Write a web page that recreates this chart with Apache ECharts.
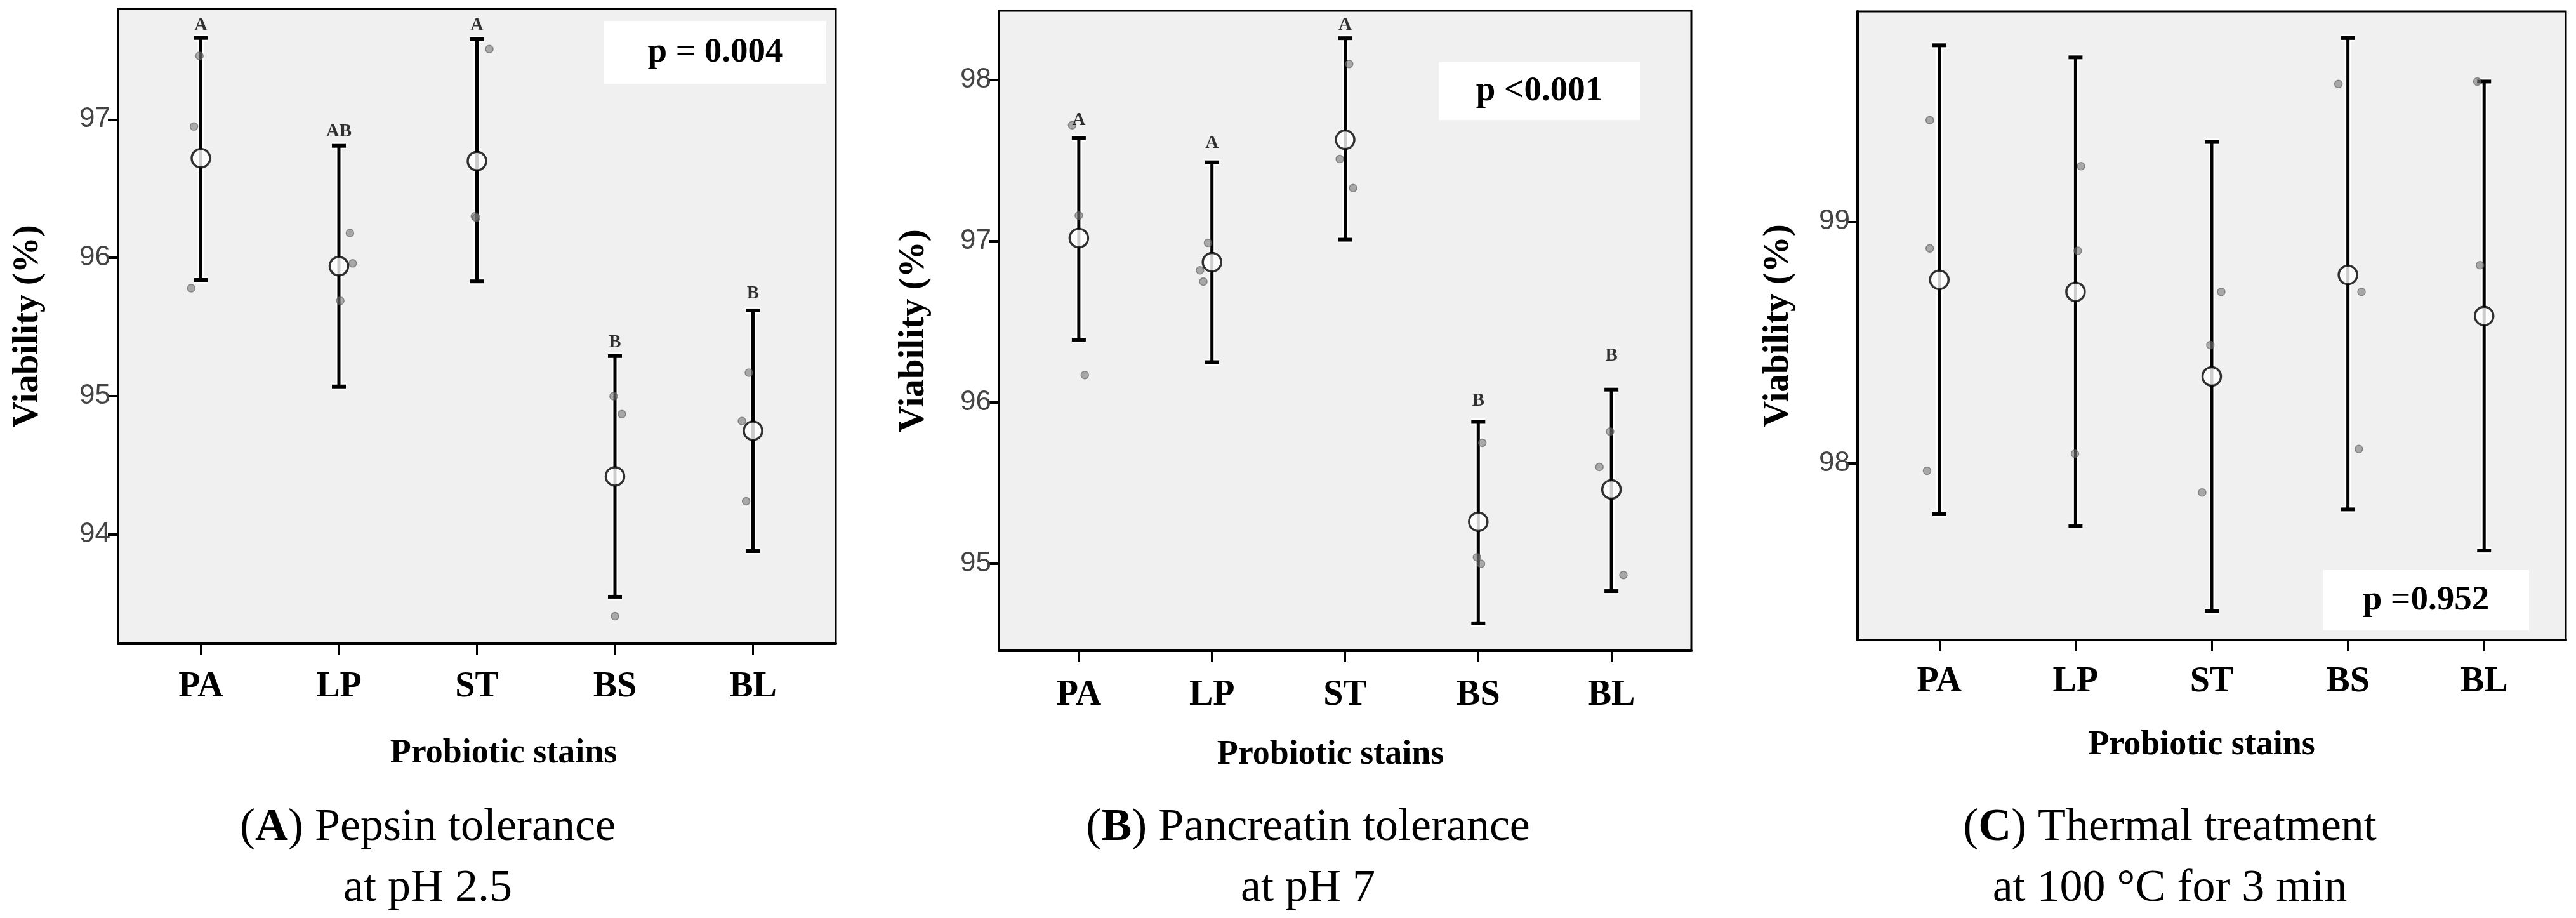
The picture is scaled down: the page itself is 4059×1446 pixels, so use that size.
<!DOCTYPE html>
<html>
<head>
<meta charset="utf-8">
<script src="https://cdn.jsdelivr.net/npm/echarts@6/dist/echarts.min.js"></script>
<style>
html,body{margin:0;padding:0;background:#fff;}
#chart{width:4059px;height:1446px;}
</style>
</head>
<body>
<div id="chart"></div>
<script>
// ---------- data ----------
const categories = ['PA', 'LP', 'ST', 'BS', 'BL'];

// Panel A: Pepsin tolerance at pH 2.5
const meanA  = [96.72, 95.94, 96.70, 94.42, 94.75];
const upperA = [97.59, 96.81, 97.58, 95.29, 95.62];
const lowerA = [95.84, 95.07, 95.83, 93.55, 93.88];
const pointsA = [[97.46, 96.95, 95.78], [96.18, 95.96, 95.69], [97.51, 96.30, 96.29], [95.00, 94.87, 93.41], [95.17, 94.82, 94.24]];
const jitterA = [[-0.01, -0.05, -0.07], [0.08, 0.10, 0.01], [0.09, -0.015, -0.005], [-0.01, 0.05, 0.0], [-0.03, -0.08, -0.05]];
const lettersA = ['A', 'AB', 'A', 'B', 'B'];
const letterYA = [97.68, 96.91, 97.68, 95.39, 95.74];
const ticksA = [94, 95, 96, 97];
const rangeA = [93.21, 97.80];

// Panel B: Pancreatin tolerance at pH 7
const meanB  = [97.02, 96.87, 97.63, 95.26, 95.46];
const upperB = [97.64, 97.49, 98.26, 95.88, 96.08];
const lowerB = [96.39, 96.25, 97.01, 94.63, 94.83];
const pointsB = [[97.72, 97.16, 96.17], [96.99, 96.82, 96.75], [98.10, 97.51, 97.33], [95.75, 95.04, 95.00], [95.82, 95.60, 94.93]];
const jitterB = [[-0.05, 0.0, 0.045], [-0.03, -0.09, -0.065], [0.03, -0.04, 0.06], [0.03, -0.01, 0.02], [-0.01, -0.09, 0.09]];
const lettersB = ['A', 'A', 'A', 'B', 'B'];
const letterYB = [97.75, 97.61, 98.34, 96.01, 96.29];
const ticksB = [95, 96, 97, 98];
const rangeB = [94.46, 98.43];

// Panel C: Thermal treatment at 100 °C for 3 min
const meanC  = [98.76, 98.71, 98.36, 98.78, 98.61];
const upperC = [99.73, 99.68, 99.33, 99.76, 99.58];
const lowerC = [97.79, 97.74, 97.39, 97.81, 97.64];
const pointsC = [[99.42, 98.89, 97.97], [99.23, 98.88, 98.04], [98.71, 98.49, 97.88], [99.57, 98.71, 98.06], [99.58, 98.82, 97.42]];
const jitterC = [[-0.07, -0.07, -0.09], [0.04, 0.016, -0.004], [0.07, -0.01, -0.07], [-0.07, 0.10, 0.08], [-0.05, -0.03, 0.03]];
const lettersC = ['', '', '', '', ''];
const letterYC = [null, null, null, null, null];
const ticksC = [98, 99];
const rangeC = [97.27, 99.87];

const pTexts = ['p = 0.004', 'p <0.001', 'p =0.952'];
const captionBold = ['A', 'B', 'C'];
const captionLine1 = [' Pepsin tolerance', ' Pancreatin tolerance', ' Thermal treatment'];
const captionLine2 = ['at pH 2.5', 'at pH 7', 'at 100 °C for 3 min'];
const yName = 'Viability (%)';
const xName = 'Probiotic stains';

// ---------- layout ----------
const SERIF = '"Liberation Serif", "Times New Roman", serif';
const SANS = '"Liberation Sans", Arial, sans-serif';

const panels = [
  { mean: meanA, upper: upperA, lower: lowerA, pts: pointsA, jit: jitterA, letters: lettersA, letterY: letterYA, ticks: ticksA, range: rangeA,
    grid: { left: 186, top: 14, width: 1131, height: 1000 }, yGap: 113, xGap: 146, xPad: [0, 0, 0, 84], labelMargin: 41,
    pbox: { x: 952, y: 33, w: 350, h: 99 }, capX: 674 },
  { mean: meanB, upper: upperB, lower: lowerB, pts: pointsB, jit: jitterB, letters: lettersB, letterY: letterYB, ticks: ticksB, range: rangeB,
    grid: { left: 1574, top: 17, width: 1091, height: 1008 }, yGap: 105, xGap: 137, xPad: [0, 46, 0, 0], labelMargin: 43,
    pbox: { x: 2267, y: 98, w: 317, h: 91 }, capX: 2061 },
  { mean: meanC, upper: upperC, lower: lowerC, pts: pointsC, jit: jitterC, letters: lettersC, letterY: letterYC, ticks: ticksC, range: rangeC,
    grid: { left: 2927, top: 18, width: 1116, height: 990 }, yGap: 96, xGap: 139, xPad: [0, 32, 0, 0], labelMargin: 39,
    pbox: { x: 3660, y: 898, w: 325, h: 95 }, capX: 3419 }
];

const grids = [], xAxes = [], yAxes = [], series = [], graphics = [];

panels.forEach((p, k) => {
  grids.push(Object.assign({ show: true, backgroundColor: '#f0f0f0', borderColor: '#000', borderWidth: 3, containLabel: false }, p.grid));

  xAxes.push({
    type: 'value', gridIndex: k, min: -0.6, max: 4.6,
    name: xName, nameLocation: 'middle', nameGap: p.xGap,
    nameTextStyle: { fontFamily: SERIF, fontWeight: 'bold', fontSize: 54, color: '#000', padding: p.xPad },
    axisLine: { show: true, onZero: false, lineStyle: { color: '#000', width: 4 } },
    axisTick: { show: true, inside: false, length: 18, customValues: [0, 1, 2, 3, 4], lineStyle: { color: '#000', width: 3 } },
    axisLabel: { show: true, margin: p.labelMargin, customValues: [0, 1, 2, 3, 4],
      formatter: v => categories[Math.round(v)] || '',
      fontFamily: SERIF, fontWeight: 'bold', fontSize: 56, color: '#000' },
    splitLine: { show: false }
  });

  yAxes.push({
    type: 'value', gridIndex: k, min: p.range[0], max: p.range[1],
    name: yName, nameLocation: 'middle', nameRotate: 90, nameGap: p.yGap,
    nameTextStyle: { fontFamily: SERIF, fontWeight: 'bold', fontSize: 57, color: '#000' },
    axisLine: { show: true, onZero: false, lineStyle: { color: '#000', width: 4 } },
    axisTick: { show: true, inside: false, length: 16, customValues: p.ticks, lineStyle: { color: '#000', width: 4 } },
    axisLabel: { show: true, margin: 12, customValues: p.ticks, formatter: v => String(Math.round(v)),
      fontFamily: SANS, fontSize: 44, color: '#444' },
    splitLine: { show: false }
  });

  // error bars
  series.push({
    type: 'custom', xAxisIndex: k, yAxisIndex: k, z: 3,
    data: categories.map((c, i) => [i, p.lower[i], p.upper[i]]),
    renderItem: (params, api) => {
      const x = api.value(0), lo = api.value(1), hi = api.value(2);
      const a = api.coord([x, hi]), b = api.coord([x, lo]);
      const hw = 11;
      const mk = (stroke, w, cw) => [
        { type: 'line', shape: { x1: a[0], y1: a[1], x2: b[0], y2: b[1] }, style: { stroke: stroke, lineWidth: w } },
        { type: 'line', shape: { x1: a[0] - hw, y1: a[1], x2: a[0] + hw, y2: a[1] }, style: { stroke: stroke, lineWidth: cw } },
        { type: 'line', shape: { x1: b[0] - hw, y1: b[1], x2: b[0] + hw, y2: b[1] }, style: { stroke: stroke, lineWidth: cw } }
      ];
      return { type: 'group', children: mk('#ffffff', 10, 11).concat(mk('#000000', 5, 6)) };
    }
  });

  // replicate points
  const ptData = [];
  p.pts.forEach((arr, i) => arr.forEach((v, j) => ptData.push([i + p.jit[i][j], v])));
  series.push({
    type: 'scatter', xAxisIndex: k, yAxisIndex: k, z: 4, symbolSize: 12,
    itemStyle: { color: 'rgba(120,120,120,0.75)', borderColor: 'rgba(90,90,90,0.8)', borderWidth: 1.5 },
    data: ptData
  });

  // means
  series.push({
    type: 'scatter', xAxisIndex: k, yAxisIndex: k, z: 5, symbolSize: 29,
    itemStyle: { color: '#ffffff', borderColor: '#000', borderWidth: 3.5 },
    data: p.mean.map((m, i) => [i, m])
  });

  // significance letters
  const lt = [];
  p.letters.forEach((l, i) => { if (l) lt.push({ value: [i, p.letterY[i]], name: l }); });
  if (lt.length) {
    series.push({
      type: 'scatter', xAxisIndex: k, yAxisIndex: k, z: 6, symbolSize: 2,
      itemStyle: { color: 'rgba(0,0,0,0)' },
      label: { show: true, position: 'inside', formatter: d => d.name,
        fontFamily: SERIF, fontWeight: 'bold', fontSize: 29, color: '#000' },
      data: lt
    });
  }

  // p-value box
  graphics.push({ type: 'rect', z: 100, shape: { x: p.pbox.x, y: p.pbox.y, width: p.pbox.w, height: p.pbox.h }, style: { fill: '#ffffff' } });
  graphics.push({ type: 'text', z: 101, x: p.pbox.x + p.pbox.w / 2, y: p.pbox.y + p.pbox.h / 2,
    style: { text: pTexts[k], align: 'center', verticalAlign: 'middle', font: 'bold 55px ' + SERIF, fill: '#000' } });

  // captions
  graphics.push({ type: 'text', z: 101, x: p.capX, y: 1304,
    style: { text: '({b|' + captionBold[k] + '})' + captionLine1[k], align: 'center', verticalAlign: 'middle',
      font: '72px ' + SERIF, fill: '#000',
      rich: { b: { fontFamily: SERIF, fontWeight: 'bold', fontSize: 72, fill: '#000' } } } });
  graphics.push({ type: 'text', z: 101, x: p.capX, y: 1400,
    style: { text: captionLine2[k], align: 'center', verticalAlign: 'middle', font: '72px ' + SERIF, fill: '#000' } });
});

const chart = echarts.init(document.getElementById('chart'), null, { renderer: 'canvas' });
chart.setOption({
  animation: false,
  backgroundColor: '#ffffff',
  grid: grids,
  xAxis: xAxes,
  yAxis: yAxes,
  series: series,
  graphic: { elements: graphics }
});
</script>
</body>
</html>
